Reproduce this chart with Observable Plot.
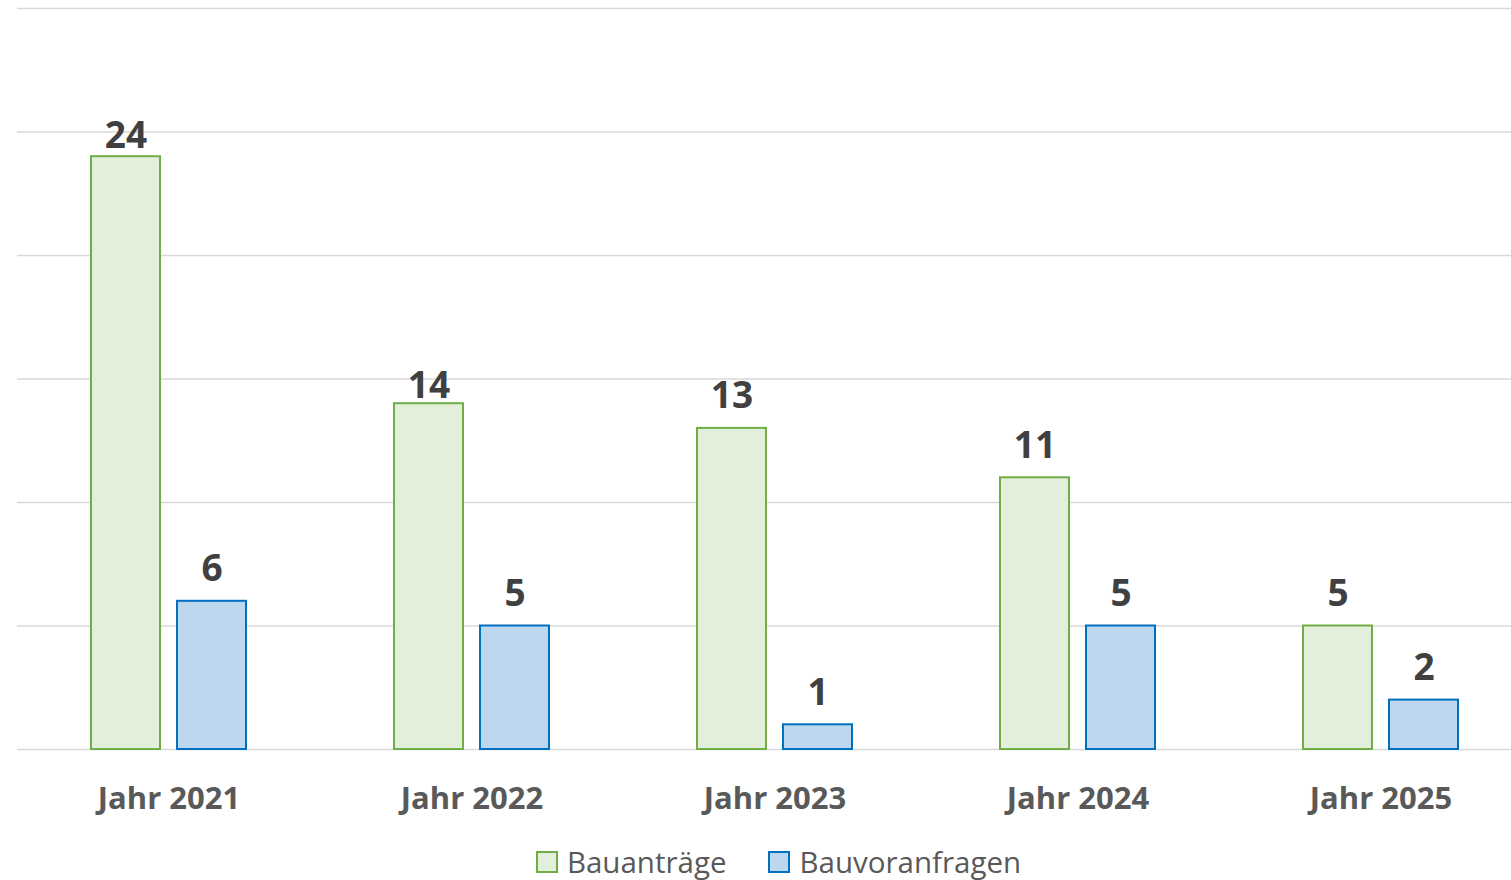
<!DOCTYPE html>
<html>
<head>
<meta charset="utf-8">
<script src="https://cdn.jsdelivr.net/npm/d3@7"></script>
<script src="https://cdn.jsdelivr.net/npm/@observablehq/plot@0.6"></script>
<style>
  html, body { margin: 0; padding: 0; background: #fff; }
  body { width: 1511px; height: 880px; overflow: hidden; font-family: "Open Sans", sans-serif; }
  #chart svg { display: block; }
  .legend { display: flex; justify-content: center; align-items: center; padding-left: 46px; padding-top: 7px;
            font-size: 29.5px; color: #595959; line-height: 39px; }
  .legend .item { display: flex; align-items: center; margin: 0 21px; }
  .legend .sw { width: 18px; height: 18px; border: 2px solid; margin-right: 9px; }
</style>
</head>
<body>
<div id="chart"></div>
<div class="legend" id="legend"></div>
<script>
const years = ["Jahr 2021", "Jahr 2022", "Jahr 2023", "Jahr 2024", "Jahr 2025"];
const seriesNames = ["Bauanträge", "Bauvoranfragen"];
const bauantraege = [24, 14, 13, 11, 5];
const bauvoranfragen = [6, 5, 1, 5, 2];
const yTicks = [0, 5, 10, 15, 20, 25, 30];
const fills = ["#E2EFDA", "#BDD7EE"];
const strokes = ["#70AD47", "#0070C0"];

const data = [];
years.forEach((y, i) => {
  data.push({year: y, series: seriesNames[0], value: bauantraege[i]});
  data.push({year: y, series: seriesNames[1], value: bauvoranfragen[i]});
});

// labels that sit closer to their bars in the original
const isA = (d, y) => d.series === seriesNames[0] && d.year === y;
const labelStyle = {fx: "year", x: "series", y: "value", text: d => String(d.value),
  lineAnchor: "bottom", fontSize: 37, fontWeight: "bold", fill: "#404040"};

const chart = Plot.plot({
  width: 1511,
  height: 835,
  marginLeft: 16,
  marginRight: 0,
  marginTop: 8,
  marginBottom: 86,
  style: {fontFamily: "'Open Sans', sans-serif", background: "#fff"},
  fx: {domain: years, range: [16, 1532], padding: 0, label: null, axis: null},
  x: {domain: seriesNames, paddingInner: 0.2, paddingOuter: 0.86, axis: null},
  y: {domain: [0, 30], axis: null},
  marks: [
    Plot.ruleY(yTicks, {stroke: "#D9D9D9", strokeWidth: 1.5}),
    ...seriesNames.map((s, k) => Plot.barY(data.filter(d => d.series === s), {
      fx: "year", x: "series", y: "value",
      fill: fills[k], stroke: strokes[k], strokeWidth: 2
    })),
    Plot.text(data.filter(d => !isA(d, years[0]) && !isA(d, years[1])), {...labelStyle, dy: -20}),
    Plot.text(data.filter(d => isA(d, years[0])), {...labelStyle, dy: -9}),
    Plot.text(data.filter(d => isA(d, years[1])), {...labelStyle, dy: -6}),
    Plot.axisFx({
      domain: years, anchor: "bottom", tickSize: 0, tickPadding: 37, label: null,
      fontSize: 31, fontWeight: "bold", fill: "#595959"
    })
  ]
});
document.getElementById("chart").appendChild(chart);

const legend = document.getElementById("legend");
seriesNames.forEach((s, k) => {
  const item = document.createElement("div");
  item.className = "item";
  const sw = document.createElement("span");
  sw.className = "sw";
  sw.style.background = fills[k];
  sw.style.borderColor = strokes[k];
  const t = document.createElement("span");
  t.textContent = s;
  item.appendChild(sw);
  item.appendChild(t);
  legend.appendChild(item);
});
</script>
</body>
</html>
